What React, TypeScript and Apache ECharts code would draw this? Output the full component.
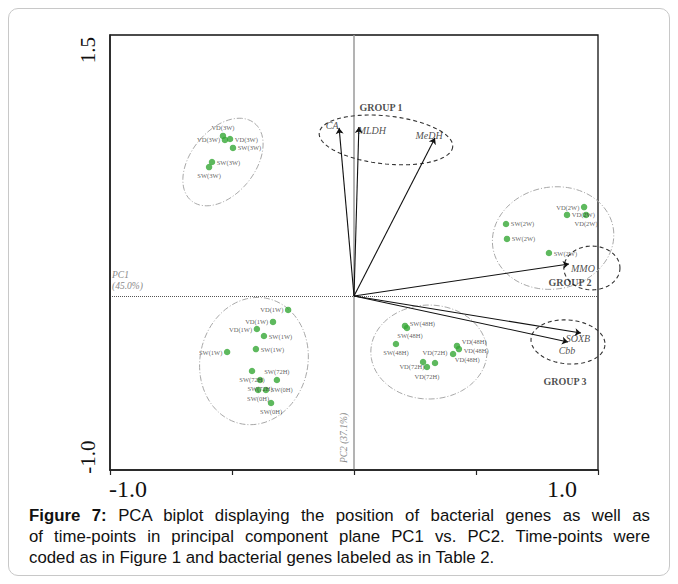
import React, { useEffect, useRef } from "react";
import * as echarts from "echarts";

// ---- data ----
const pointNames = [
  "VD(3W)", "VD(3W)", "VD(3W)", "SW(3W)", "SW(3W)", "SW(3W)",
  "VD(2W)", "VD(2W)", "VD(2W)", "SW(2W)", "SW(2W)", "SW(2W)",
  "VD(1W)", "VD(1W)", "VD(1W)", "SW(1W)", "SW(1W)", "SW(1W)",
  "SW(72H)", "SW(72H)", "SW(72H)", "SW(0H)", "SW(0H)", "SW(0H)",
  "SW(48H)", "SW(48H)", "SW(48H)", "VD(48H)", "VD(48H)", "VD(48H)",
  "VD(72H)", "VD(72H)", "VD(72H)",
];
const pointX = [
  -0.537, -0.508, -0.529, -0.496, -0.582, -0.594,
  0.943, 0.873, 0.951, 0.623, 0.627, 0.799,
  -0.27, -0.332, -0.398, -0.369, -0.52, -0.402,
  -0.418, -0.316, -0.385, -0.393, -0.361, -0.34,
  0.209, 0.217, 0.172, 0.422, 0.43, 0.406,
  0.332, 0.283, 0.299,
];
const pointY = [
  0.92, 0.902, 0.897, 0.851, 0.77, 0.741,
  0.511, 0.466, 0.466, 0.414, 0.328, 0.247,
  -0.08, -0.149, -0.19, -0.23, -0.322, -0.305,
  -0.431, -0.483, -0.483, -0.54, -0.54, -0.615,
  -0.172, -0.184, -0.276, -0.287, -0.305, -0.333,
  -0.385, -0.379, -0.408,
];

const geneNames = ["CA", "MLDH", "MeDH", "MMO", "SOXB", "Cbb"];
const geneX = [-0.061, 0.02, 0.332, 0.881, 0.93, 0.877];
const geneY = [0.966, 0.971, 0.908, 0.184, -0.213, -0.264];

const groupNames = ["GROUP 1", "GROUP 2", "GROUP 3"];
const groupX = [0.111, 0.885, 0.865];
const groupY = [1.086, 0.08, -0.494];

const xTickLabels = ["-1.0", "1.0"];
const yTickLabels = ["-1.0", "1.5"];
const pc1Title = ["PC1", "(45.0%)"];
const pc2Title = "PC2 (37.1%)";

// ellipses: [centerX, centerY, semiX, semiY, rotationDeg]
const clusterEllipses = [
  [-0.537, 0.77, 0.205, 0.184, -51],
  [0.816, 0.333, 0.25, 0.293, -10],
  [-0.41, -0.374, 0.221, 0.368, 12],
  [0.307, -0.322, 0.238, 0.27, 0],
];
const groupEllipses = [
  [0.131, 0.897, 0.275, 0.138, 6],
  [0.975, 0.161, 0.115, 0.126, 0],
  [0.877, -0.264, 0.152, 0.126, 5],
];

const captionLead = "Figure 7:";
const caption = [
  "PCA biplot displaying the position of bacterial genes as well as",
  "of time-points in principal component plane PC1 vs. PC2. Time-points were",
  "coded as in Figure 1 and bacterial genes labeled as in Table 2.",
];

// ---- layout (not data) ----
const pointLabelSide = [
  "top", "right", "left", "right", "right", "bottom",
  "left", "right", "bottom", "right", "right", "right",
  "left", "left", "left", "right", "left", "right",
  "bottom", "top", "bottom", "bottom", "right", "bottom",
  "right", "bottom", "bottom", "right", "right", "right",
  "top", "left", "bottom",
];
const pointLabelShift: Record<number, number[]> = {
  24: [0, -2],
  25: [3, -1],
  27: [0, -4],
  28: [0, 1],
  29: [-3, 6],
  30: [0, -2],
  31: [6, 5],
  32: [0, 1],
};
const geneLabelOffset = [
  [-7, -2], [13, 3], [-6, -3], [14, 5], [-3, 5], [-1, 9],
];

const SERIF = '"Liberation Serif", "Times New Roman", Times, serif';
const SANS = '"Liberation Sans", Arial, Helvetica, sans-serif';

function ellipseRender(stroke: string, width: number, dash: number[]) {
  return (params: any, api: any) => {
    const c = api.coord([api.value(0), api.value(1)]);
    const s = api.size([api.value(2), api.value(3)]);
    const rot = (api.value(4) * Math.PI) / 180;
    const pts: number[][] = [];
    const n = 90;
    for (let i = 0; i <= n; i++) {
      const t = (i / n) * Math.PI * 2;
      const ex = s[0] * Math.cos(t);
      const ey = s[1] * Math.sin(t);
      pts.push([
        c[0] + ex * Math.cos(rot) - ey * Math.sin(rot),
        c[1] + ex * Math.sin(rot) + ey * Math.cos(rot),
      ]);
    }
    return {
      type: "polyline",
      shape: { points: pts },
      style: { stroke, lineWidth: width, lineDash: dash, fill: "none" },
    };
  };
}

export default function App() {
  const ref = useRef<HTMLDivElement>(null);

  useEffect(() => {
    if (!ref.current) return;
    const chart = echarts.init(ref.current, undefined, { renderer: "svg" });
    const xMin = parseFloat(xTickLabels[0]);
    const xMax = parseFloat(xTickLabels[1]);
    const yMin = parseFloat(yTickLabels[0]);
    const yMax = parseFloat(yTickLabels[1]);

    chart.setOption({
      animation: false,
      backgroundColor: "transparent",
      grid: {
        left: 110,
        right: 80,
        top: 35,
        bottom: 114,
        show: true,
        borderColor: "#111",
        borderWidth: 1.3,
      },
      xAxis: {
        type: "value",
        min: xMin,
        max: xMax,
        interval: 0.5,
        splitLine: { show: false },
        axisLine: { show: true, onZero: false, lineStyle: { color: "#222", width: 1.6 } },
        axisTick: { show: true, length: 5, lineStyle: { color: "#222", width: 1.2 } },
        axisLabel: {
          margin: 7,
          showMinLabel: true,
          showMaxLabel: true,
          formatter: (v: number) =>
            Math.abs(v - xMin) < 1e-9
              ? `{a|${xTickLabels[0]}}`
              : Math.abs(v - xMax) < 1e-9
              ? `{b|${xTickLabels[1]}}`
              : "",
          rich: {
            a: { fontFamily: SERIF, fontSize: 24, color: "#111", padding: [0, 0, 0, 36] },
            b: { fontFamily: SERIF, fontSize: 24, color: "#111", padding: [0, 72, 0, 0] },
          },
        },
      },
      yAxis: {
        type: "value",
        min: yMin,
        max: yMax,
        interval: 0.5,
        splitLine: { show: false },
        axisLine: { show: true, onZero: false, lineStyle: { color: "#222", width: 1.6 } },
        axisTick: { show: false },
        axisLabel: {
          rotate: 90,
          margin: 12,
          showMinLabel: true,
          showMaxLabel: true,
          formatter: (v: number) =>
            Math.abs(v - yMin) < 1e-9
              ? `{a|${yTickLabels[0]}}`
              : Math.abs(v - yMax) < 1e-9
              ? `{b|${yTickLabels[1]}}`
              : "",
          rich: {
            a: { fontFamily: SERIF, fontSize: 21, color: "#111", padding: [0, 0, 0, 26] },
            b: { fontFamily: SERIF, fontSize: 21, color: "#111", padding: [0, 30, 0, 0] },
          },
        },
      },
      graphic: [
        {
          type: "text",
          left: 112,
          top: 269,
          silent: true,
          style: {
            text: pc1Title.join("\n"),
            font: `italic 9.5px ${SERIF}`,
            fill: "#8a8a8a",
            lineHeight: 11,
          },
        },
        {
          type: "text",
          x: 344,
          y: 438,
          rotation: Math.PI / 2,
          silent: true,
          style: {
            text: pc2Title,
            font: `italic 9.5px ${SERIF}`,
            fill: "#8a8a8a",
            align: "center",
            verticalAlign: "middle",
          },
        },
      ],
      series: [
        {
          type: "custom",
          name: "clusters",
          clip: false,
          silent: true,
          z: 1,
          renderItem: ellipseRender("#a8a8a8", 1, [6, 2, 1, 2]),
          data: clusterEllipses,
        },
        {
          type: "custom",
          name: "groups",
          clip: false,
          silent: true,
          z: 1,
          renderItem: ellipseRender("#333", 1.1, [4, 3]),
          data: groupEllipses,
        },
        {
          type: "lines",
          coordinateSystem: "cartesian2d",
          silent: true,
          z: 4,
          symbol: ["none", "arrow"],
          symbolSize: 6,
          lineStyle: { color: "#111", width: 1.1, opacity: 1, curveness: 0 },
          data: geneNames.map((n, i) => ({
            name: n,
            coords: [
              [0, 0],
              [geneX[i], geneY[i]],
            ],
          })),
        },
        {
          type: "scatter",
          name: "genes",
          silent: true,
          z: 5,
          symbolSize: 1,
          itemStyle: { color: "rgba(0,0,0,0)" },
          label: {
            show: true,
            position: "inside",
            formatter: "{b}",
            fontFamily: SERIF,
            fontStyle: "italic",
            fontSize: 10,
            color: "#222",
          },
          data: geneNames.map((n, i) => ({
            name: n,
            value: [geneX[i], geneY[i]],
            label: { offset: geneLabelOffset[i] },
          })),
        },
        {
          type: "scatter",
          name: "groupLabels",
          silent: true,
          z: 5,
          symbolSize: 1,
          itemStyle: { color: "rgba(0,0,0,0)" },
          label: {
            show: true,
            position: "inside",
            formatter: "{b}",
            fontFamily: SERIF,
            fontWeight: "bold",
            fontSize: 10,
            color: "#222",
          },
          data: groupNames.map((n, i) => ({ name: n, value: [groupX[i], groupY[i]] })),
        },
        {
          type: "scatter",
          name: "timepoints",
          silent: true,
          z: 3,
          symbol: "circle",
          symbolSize: 6.5,
          itemStyle: { color: "#36a836" },
          label: {
            show: true,
            formatter: "{b}",
            distance: 1.5,
            fontFamily: SERIF,
            fontSize: 6.5,
            color: "#333",
          },
          data: pointNames.map((n, i) => ({
            name: n,
            value: [pointX[i], pointY[i]],
            label: {
              position: pointLabelSide[i],
              offset: pointLabelShift[i] || [0, 0],
            },
          })),
          markLine: {
            silent: true,
            symbol: "none",
            label: { show: false },
            z: 0,
            data: [
              { xAxis: 0, lineStyle: { color: "#9a9a9a", width: 1.5, type: "solid" } },
              { yAxis: 0, lineStyle: { color: "#555", width: 1, type: "dotted" } },
            ],
          },
        },
      ],
    });
    return () => chart.dispose();
  }, []);

  return (
    <div
      style={{
        position: "absolute",
        left: 0,
        top: 0,
        width: 678,
        height: 584,
        background: "#fff",
        overflow: "hidden",
      }}
    >
      <div
        style={{
          position: "absolute",
          left: 8,
          top: 8,
          width: 662,
          height: 568,
          border: "1px solid #c8c8c8",
          borderRadius: 10,
          boxSizing: "border-box",
        }}
      />
      <div ref={ref} style={{ position: "absolute", left: 0, top: 0, width: 678, height: 584 }} />
      <div
        style={{
          position: "absolute",
          left: 29,
          top: 505,
          width: 621,
          fontFamily: SANS,
          fontSize: 16.8,
          lineHeight: "21px",
          color: "#111",
        }}
      >
        {caption.map((line, i) => (
          <div
            key={i}
            style={{
              textAlign: i < caption.length - 1 ? "justify" : "left",
              textAlignLast: i < caption.length - 1 ? "justify" : "left",
              whiteSpace: "nowrap",
            }}
          >
            {i === 0 ? (
              <>
                <b>{captionLead}</b> {line}
              </>
            ) : (
              line
            )}
          </div>
        ))}
      </div>
    </div>
  );
}
